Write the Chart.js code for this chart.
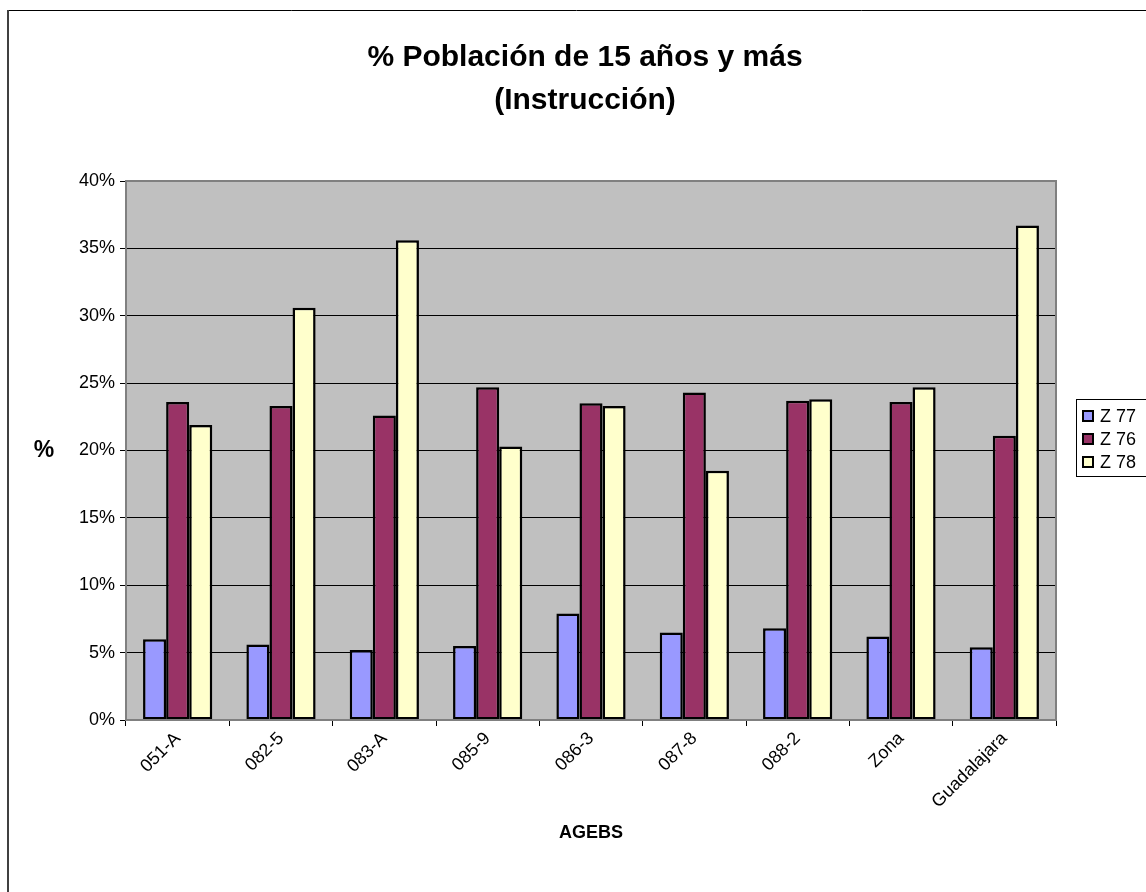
<!DOCTYPE html>
<html>
<head>
<meta charset="utf-8">
<script src="https://cdn.jsdelivr.net/npm/chart.js@4/dist/chart.umd.min.js"></script>
<style>
html,body{margin:0;padding:0;background:#fff;}
#wrap{width:1146px;height:892px;position:relative;}
</style>
</head>
<body>
<div id="wrap"><canvas id="c" width="1146" height="892"></canvas></div>
<script>
const categories = ['051-A','082-5','083-A','085-9','086-3','087-8','088-2','Zona','Guadalajara'];
const seriesNames = ['Z 77','Z 76','Z 78'];
const z77 = [6.0, 5.6, 5.2, 5.5, 7.9, 6.5, 6.8, 6.2, 5.4];
const z76 = [23.6, 23.3, 22.6, 24.7, 23.5, 24.3, 23.7, 23.6, 21.1];
const z78 = [21.9, 30.6, 35.6, 20.3, 23.3, 18.5, 23.8, 24.7, 36.7];
const yTicks = [0,5,10,15,20,25,30,35,40];
const titleLines = ['% Población de 15 años y más','(Instrucción)'];
const yTitle = '%';
const xTitle = 'AGEBS';
const colors = ['#9999FF','#993366','#FFFFCC'];

const FONT = "'Liberation Sans', Arial, sans-serif";

const decor = {
  id: 'decor',
  beforeDraw(chart) {
    const {ctx, chartArea: a} = chart;
    ctx.save();
    ctx.fillStyle = '#C0C0C0';
    ctx.fillRect(a.left, a.top, a.right - a.left, a.bottom - a.top);
    ctx.restore();
  },
  afterDatasetsDraw(chart) {
    const {ctx, chartArea: a} = chart;
    ctx.save();
    ctx.strokeStyle = '#808080';
    ctx.lineWidth = 2;
    ctx.strokeRect(a.left, a.top, a.right - a.left, a.bottom - a.top);
    ctx.restore();
  },
  afterDraw(chart) {
    const {ctx} = chart;
    ctx.save();
    ctx.strokeStyle = '#000';
    ctx.lineWidth = 1;
    ctx.beginPath();
    ctx.moveTo(7, 10.5); ctx.lineTo(1146, 10.5);
    ctx.stroke();
    ctx.strokeStyle = '#404040';
    ctx.lineWidth = 2;
    ctx.beginPath();
    ctx.moveTo(8, 10); ctx.lineTo(8, 892);
    ctx.stroke();
    ctx.fillStyle = '#000';
    ctx.textAlign = 'center';
    ctx.textBaseline = 'middle';
    ctx.font = 'bold 30px ' + FONT;
    ctx.fillText(titleLines[0], 585, 58);
    ctx.fillText(titleLines[1], 585, 101);
    ctx.font = 'bold 23px ' + FONT;
    ctx.fillText(yTitle, 44, 451);
    ctx.strokeStyle = '#000';
    ctx.lineWidth = 1;
    ctx.strokeRect(1076.5, 399.5, 100, 77);
    ctx.font = '18px ' + FONT;
    ctx.textAlign = 'left';
    chart.data.datasets.forEach((ds, i) => {
      const y = 416 + i * 23;
      ctx.fillStyle = ds.backgroundColor;
      ctx.fillRect(1083, y - 5, 10, 10);
      ctx.lineWidth = 2;
      ctx.strokeStyle = '#000';
      ctx.strokeRect(1083, y - 5, 10, 10);
      ctx.fillStyle = '#000';
      ctx.fillText(ds.label, 1100, y + 1);
    });
    ctx.restore();
  }
};

new Chart(document.getElementById('c'), {
  type: 'bar',
  data: {
    labels: categories,
    datasets: [
      {label: seriesNames[0], data: z77, backgroundColor: colors[0]},
      {label: seriesNames[1], data: z76, backgroundColor: colors[1]},
      {label: seriesNames[2], data: z78, backgroundColor: colors[2]}
    ].map(d => Object.assign(d, {borderColor: '#000', borderWidth: 2.5, borderSkipped: false, categoryPercentage: 0.67, barPercentage: 1.0}))
  },
  options: {
    responsive: false,
    animation: false,
    events: [],
    layout: {padding: {top: 181, right: 90, left: 0, bottom: 0}},
    plugins: {legend: {display: false}, title: {display: false}, tooltip: {enabled: false}},
    scales: {
      x: {
        grid: {offset: true, drawOnChartArea: false, color: '#000', tickLength: 6, lineWidth: 1},
        border: {display: false},
        ticks: {color: '#000', font: {family: FONT, size: 18}, minRotation: 45, maxRotation: 45, padding: 2, autoSkip: false},
        title: {display: true, text: xTitle, color: '#000', font: {family: FONT, size: 18, weight: 'bold'}, padding: {bottom: 48}},
        afterFit(s) { s.height = 172; }
      },
      y: {
        min: 0, max: 40,
        afterBuildTicks(s) { s.ticks = yTicks.map(v => ({value: v})); },
        grid: {color: '#000', tickLength: 6, lineWidth: 1},
        border: {display: false},
        ticks: {color: '#000', font: {family: FONT, size: 18}, padding: 5, callback: v => v + '%'},
        afterFit(s) { s.width = 126; }
      }
    }
  },
  plugins: [decor]
});
</script>
</body>
</html>
